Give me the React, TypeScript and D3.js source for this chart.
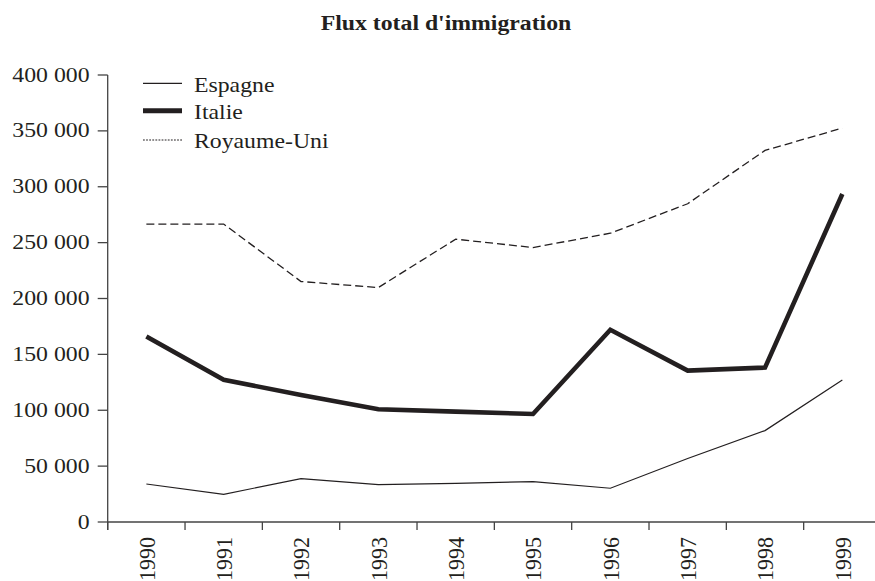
import React, { useEffect, useRef } from 'react';
import * as d3 from 'd3';

const years = ['1990', '1991', '1992', '1993', '1994', '1995', '1996', '1997', '1998', '1999'];
const espagne = [34000, 24800, 38800, 33400, 34600, 36100, 30200, 56800, 81800, 127000];
const italie = [166000, 127200, 113700, 100900, 98800, 96700, 172000, 135500, 138200, 293500];
const royaumeUni = [266600, 266600, 215200, 209800, 253100, 245600, 258400, 284800, 332500, 352500];
const yTicks = [0, 50000, 100000, 150000, 200000, 250000, 300000, 350000, 400000];

const series = [
  { name: 'Espagne', values: espagne, width: 1.2, dash: null, legendWidth: 1.2, legendDash: null },
  { name: 'Italie', values: italie, width: 4.6, dash: null, legendWidth: 5, legendDash: null },
  { name: 'Royaume-Uni', values: royaumeUni, width: 1.3, dash: '8,4', legendWidth: 1.2, legendDash: '1.8,1.3' },
];

const W = 875;
const H = 581;
const INK = '#231f20';
const FONT = '"Liberation Serif", "Times New Roman", serif';
const FS = 22;
const SX = 1.08; // the reference text is a little stretched horizontally

export default function App() {
  const svgRef = useRef<SVGSVGElement>(null);

  useEffect(() => {
    if (!svgRef.current) return;
    const svg = d3.select(svgRef.current);
    svg.selectAll('*').remove();

    const left = 107.7;
    const x = d3.scaleBand<string>().domain(years).range([left, 881]).padding(0);
    const y = d3.scaleLinear().domain([0, 400000]).range([522, 75]);
    const cx = (d: string) => (x(d) || 0) + x.bandwidth() / 2;

    const fmt = d3.formatLocale({ decimal: ',', thousands: ' ', grouping: [3], currency: ['', ''] }).format(',');

    // Title
    svg.append('text')
      .attr('transform', `translate(446,29.5) scale(${SX},1)`)
      .attr('text-anchor', 'middle')
      .attr('font-family', FONT)
      .attr('font-weight', 'bold')
      .attr('font-size', FS)
      .attr('fill', INK)
      .text("Flux total d'immigration");

    // Y axis
    const ya = svg.append('g');
    ya.append('line')
      .attr('x1', left).attr('x2', left)
      .attr('y1', y(400000)).attr('y2', y(0) + 8)
      .attr('stroke', '#444').attr('stroke-width', 1.3);
    yTicks.forEach(t => {
      ya.append('line')
        .attr('x1', left - 10).attr('x2', left)
        .attr('y1', y(t)).attr('y2', y(t))
        .attr('stroke', '#444').attr('stroke-width', 1.3);
      ya.append('text')
        .attr('transform', `translate(89.5,${y(t) + 6.5}) scale(${SX},1)`)
        .attr('text-anchor', 'end')
        .attr('font-family', FONT)
        .attr('font-size', FS)
        .attr('fill', INK)
        .text(fmt(t));
    });

    // X axis
    const xa = svg.append('g');
    xa.append('line')
      .attr('x1', left).attr('x2', 881)
      .attr('y1', y(0)).attr('y2', y(0))
      .attr('stroke', '#444').attr('stroke-width', 1.3);
    years.forEach(yr => {
      const bx = x(yr) || 0;
      xa.append('line')
        .attr('x1', bx).attr('x2', bx)
        .attr('y1', y(0)).attr('y2', y(0) + 8)
        .attr('stroke', '#444').attr('stroke-width', 1.3);
      xa.append('text')
        .attr('transform', `translate(${cx(yr)},537) scale(${SX},1) rotate(-90)`)
        .attr('text-anchor', 'end')
        .attr('dy', '0.35em')
        .attr('font-family', FONT)
        .attr('font-size', FS)
        .attr('fill', INK)
        .text(yr);
    });

    // Lines
    const line = d3.line<number>()
      .x((_, i) => cx(years[i]))
      .y(d => y(d));

    series.forEach(s => {
      svg.append('path')
        .datum(s.values)
        .attr('fill', 'none')
        .attr('stroke', INK)
        .attr('stroke-width', s.width)
        .attr('stroke-dasharray', s.dash)
        .attr('stroke-linejoin', 'miter')
        .attr('d', line);
    });

    // Legend
    const legendY = [83.3, 110.7, 140];
    series.forEach((s, i) => {
      svg.append('line')
        .attr('x1', 143).attr('x2', 182)
        .attr('y1', legendY[i]).attr('y2', legendY[i])
        .attr('stroke', INK)
        .attr('stroke-width', s.legendWidth)
        .attr('stroke-dasharray', s.legendDash);
      svg.append('text')
        .attr('transform', `translate(194,${legendY[i] + 8.4}) scale(${SX},1)`)
        .attr('font-family', FONT)
        .attr('font-size', FS)
        .attr('fill', INK)
        .text(s.name);
    });
  }, []);

  return (
    <svg
      ref={svgRef}
      width={W}
      height={H}
      style={{ position: 'absolute', left: 0, top: 0, background: '#fff' }}
    />
  );
}
